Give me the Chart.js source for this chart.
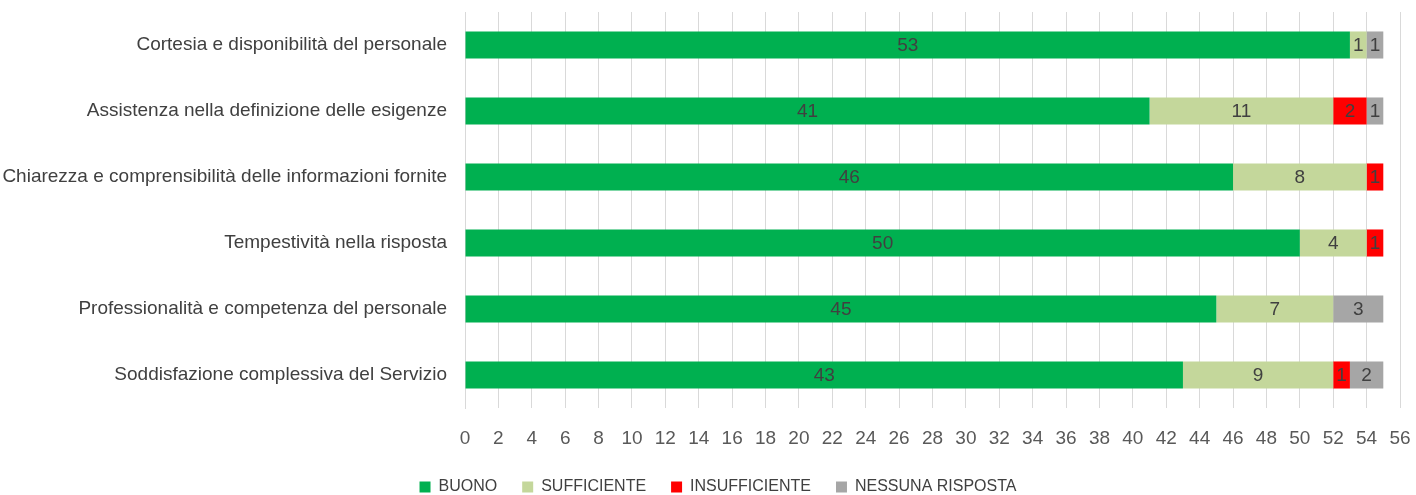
<!DOCTYPE html>
<html>
<head>
<meta charset="utf-8">
<script src="https://cdn.jsdelivr.net/npm/chart.js@4/dist/chart.umd.min.js"></script>
<style>
  html, body { margin: 0; padding: 0; background: #fff; }
  #wrap { width: 1416px; height: 495px; }
</style>
</head>
<body>
<div id="wrap"><canvas id="chart"></canvas></div>
<script>
const categories = [
  'Cortesia e disponibilità del personale',
  'Assistenza nella definizione delle esigenze',
  'Chiarezza e comprensibilità delle informazioni fornite',
  'Tempestività nella risposta',
  'Professionalità e competenza del personale',
  'Soddisfazione complessiva del Servizio'
];
const buono = [53, 41, 46, 50, 45, 43];
const sufficiente = [1, 11, 8, 4, 7, 9];
const insufficiente = [0, 2, 1, 1, 0, 1];
const nessunaRisposta = [1, 1, 0, 0, 3, 2];

const FONT = "'Liberation Sans', Arial, sans-serif";

// value labels in the middle of each segment (no datalabels plugin available offline)
const barLabels = {
  id: 'barLabels',
  afterInit(chart) {
    // keep the wide gap between legend items but cut the box height
    const lg = chart.legend;
    const fit = lg.fit.bind(lg);
    lg.fit = function () { fit(); this.height = 41; };
  },
  afterLayout(chart) {
    // excel legend sits a bit right of centre
    chart.legend.left += 18;
    chart.legend.right += 18;
  },
  afterDatasetsDraw(chart) {
    const ctx = chart.ctx;
    ctx.save();
    ctx.font = '19px ' + FONT;
    ctx.fillStyle = '#404040';
    ctx.textAlign = 'center';
    ctx.textBaseline = 'middle';
    chart.data.datasets.forEach((ds, i) => {
      const meta = chart.getDatasetMeta(i);
      if (meta.hidden) return;
      meta.data.forEach((bar, j) => {
        const v = ds.data[j];
        if (!v) return;
        const p = bar.getProps(['x', 'y', 'base'], true);
        ctx.fillText(String(v), (p.x + p.base) / 2, p.y + 1);
      });
    });
    ctx.restore();
  }
};

new Chart(document.getElementById('chart'), {
  type: 'bar',
  data: {
    labels: categories,
    datasets: [
      { label: 'BUONO', data: buono, backgroundColor: '#00B050' },
      { label: 'SUFFICIENTE', data: sufficiente, backgroundColor: '#C4D79B' },
      { label: 'INSUFFICIENTE', data: insufficiente, backgroundColor: '#FF0000' },
      { label: 'NESSUNA RISPOSTA', data: nessunaRisposta, backgroundColor: '#A6A6A6' }
    ]
  },
  options: {
    indexAxis: 'y',
    responsive: true,
    maintainAspectRatio: false,
    animation: false,
    categoryPercentage: 1,
    barPercentage: 0.41,
    layout: { padding: { top: 12, right: 16, bottom: 0, left: 0 } },
    plugins: {
      tooltip: { enabled: false },
      legend: {
        position: 'bottom',
        labels: {
          font: { family: FONT, size: 16 },
          color: '#404040',
          boxWidth: 11,
          boxHeight: 11,
          padding: 25
        }
      }
    },
    scales: {
      x: {
        stacked: true,
        min: 0,
        max: 56,
        afterFit(scale) {
          scale.height = 46;
          scale.paddingLeft = 0;
          scale.paddingRight = 0;
        },
        ticks: {
          stepSize: 2,
          font: { family: FONT, size: 19 },
          color: '#595959',
          padding: 19
        },
        grid: { color: '#D9D9D9', drawTicks: false },
        border: { display: false }
      },
      y: {
        stacked: true,
        afterFit(scale) {
          scale.width = 465;
          scale.paddingTop = 0;
          scale.paddingBottom = 0;
        },
        ticks: {
          font: { family: FONT, size: 19 },
          color: '#404040',
          padding: 18
        },
        grid: { display: false, drawTicks: false },
        border: { display: true, color: '#D9D9D9' }
      }
    }
  },
  plugins: [barLabels]
});
</script>
</body>
</html>
